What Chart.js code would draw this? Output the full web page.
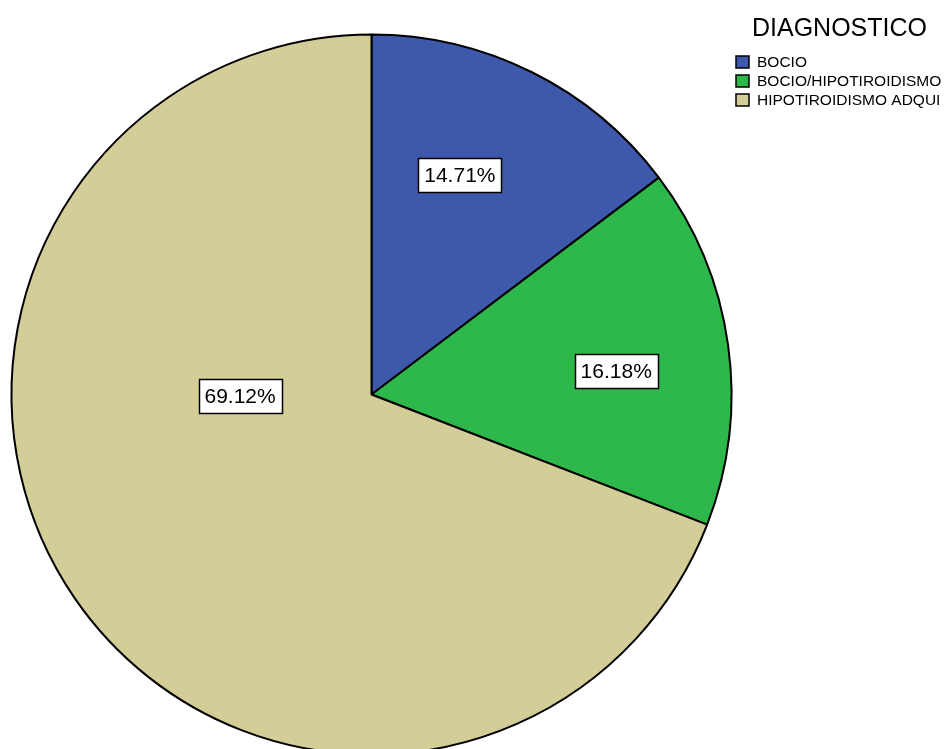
<!DOCTYPE html>
<html>
<head>
<meta charset="utf-8">
<script src="https://cdn.jsdelivr.net/npm/chart.js@4"></script>
<style>
  html, body { margin: 0; padding: 0; background: #ffffff; overflow: hidden; }
  #wrap { position: relative; width: 946px; height: 749px; overflow: hidden; }
  canvas { position: absolute; left: 0; top: 0; }
</style>
</head>
<body>
<div id="wrap"><canvas id="chart" width="946" height="800"></canvas></div>
<script>
// Diagnosis categories and their share of cases (%)
const categories = ['BOCIO', 'BOCIO/HIPOTIROIDISMO', 'HIPOTIROIDISMO ADQUI'];
const percentages = [14.71, 16.18, 69.12];
const legendTitle = 'DIAGNOSTICO';

const sliceColors = ['#3e58ab', '#2eb84b', '#d3ce97'];
const FONT = '"Liberation Sans", Arial, sans-serif';

// Where each value box sits inside its slice: share of the slice's sweep, share of the radius
const labelAnchor = [
  { sweep: 0.415, depth: 0.656 },
  { sweep: 0.541, depth: 0.683 },
  { sweep: 0.635, depth: 0.365 }
];

const valueBoxes = {
  id: 'valueBoxes',
  afterDatasetsDraw(chart) {
    const ctx = chart.ctx;
    const meta = chart.getDatasetMeta(0);
    ctx.save();
    ctx.font = '21px ' + FONT;
    ctx.textAlign = 'center';
    ctx.textBaseline = 'middle';
    meta.data.forEach((arc, i) => {
      const p = arc.getProps(['x', 'y', 'startAngle', 'endAngle', 'outerRadius'], true);
      const a = p.startAngle + (p.endAngle - p.startAngle) * labelAnchor[i].sweep;
      const r = p.outerRadius * labelAnchor[i].depth;
      const cx = p.x + Math.cos(a) * r;
      const cy = p.y + Math.sin(a) * r;
      const text = percentages[i].toFixed(2) + '%';
      const w = ctx.measureText(text).width + 12;
      const h = 34;
      ctx.fillStyle = '#ffffff';
      ctx.fillRect(Math.round(cx - w / 2) + 0.5, Math.round(cy - h / 2) + 0.5, Math.round(w), h);
      ctx.strokeStyle = '#000000';
      ctx.lineWidth = 1.5;
      ctx.strokeRect(Math.round(cx - w / 2) + 0.5, Math.round(cy - h / 2) + 0.5, Math.round(w), h);
      ctx.fillStyle = '#000000';
      ctx.fillText(text, cx, cy + 1);
    });
    ctx.restore();
  }
};

const sideLegend = {
  id: 'sideLegend',
  afterDraw(chart) {
    const ctx = chart.ctx;
    ctx.save();
    ctx.fillStyle = '#000000';
    ctx.textBaseline = 'alphabetic';
    ctx.textAlign = 'left';
    ctx.font = '25px ' + FONT;
    ctx.fillText(legendTitle, 752, 36);
    ctx.font = '15.5px ' + FONT;
    ctx.textBaseline = 'middle';
    categories.forEach((name, i) => {
      const y = 62 + i * 19;
      ctx.fillStyle = sliceColors[i];
      ctx.fillRect(736, y - 6, 13, 12);
      ctx.strokeStyle = '#000000';
      ctx.lineWidth = 1.5;
      ctx.strokeRect(736, y - 6, 13, 12);
      ctx.fillStyle = '#000000';
      ctx.fillText(name, 757, y + 1);
    });
    ctx.restore();
  }
};

new Chart(document.getElementById('chart'), {
  type: 'pie',
  data: {
    labels: categories,
    datasets: [{
      data: percentages,
      backgroundColor: sliceColors,
      borderColor: '#000000',
      borderWidth: 2
    }]
  },
  options: {
    responsive: false,
    animation: false,
    radius: 360,
    layout: { padding: { left: 0, top: 0, right: 203, bottom: 11 } },
    plugins: {
      legend: { display: false },
      tooltip: { enabled: false },
      title: { display: false }
    }
  },
  plugins: [valueBoxes, sideLegend]
});
</script>
</body>
</html>
